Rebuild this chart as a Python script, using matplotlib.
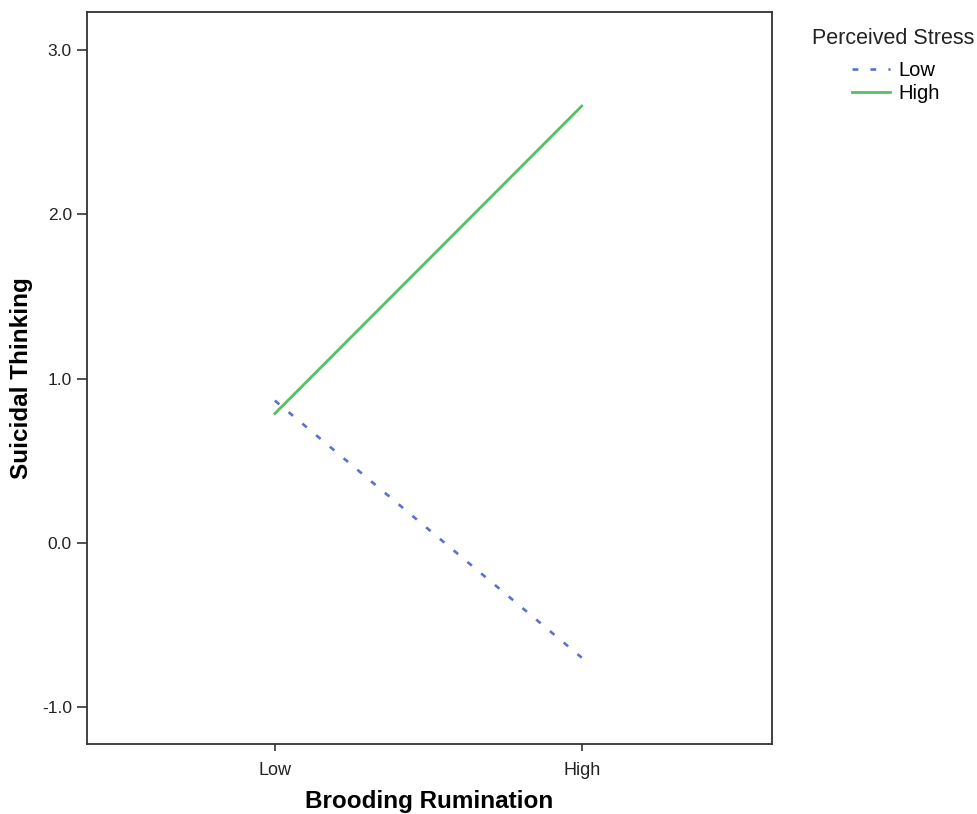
import matplotlib
matplotlib.use('Agg')
import matplotlib.pyplot as plt
from matplotlib.lines import Line2D

plt.rcParams['font.family'] = ['Liberation Sans', 'DejaVu Sans']

# data
x_labels = ['Low', 'High']
stress_low = [0.866, -0.70]
stress_high = [0.787, 2.66]
y_ticks = [-1.0, 0.0, 1.0, 2.0, 3.0]

blue = '#5b70cf'
green = '#52c262'
dots = (0, (2.2, 4.6))

fig = plt.figure(figsize=(9.78, 8.14), dpi=100)
ax = fig.add_axes([0.089, 0.086, 0.700, 0.899])

xs = [0, 1]
ax.plot(xs, stress_low, color=blue, linewidth=1.9, linestyle=dots)
ax.plot(xs, stress_high, color=green, linewidth=2)

ax.set_xlim(-0.612, 1.619)
ax.set_ylim(-1.226, 3.232)
ax.set_xticks(xs)
ax.set_xticklabels(x_labels)
ax.set_yticks(y_ticks)
ax.set_yticklabels(['%.1f' % v for v in y_ticks])
ax.tick_params(axis='x', labelsize=13, length=5, width=1.2, pad=8,
               color='#333333', labelcolor='#222222')
ax.tick_params(axis='y', labelsize=12.5, length=7, width=1.2, pad=4,
               color='#333333', labelcolor='#222222')
for s in ax.spines.values():
    s.set_linewidth(1.3)
    s.set_color('#333333')

ax.set_xlabel('Brooding Rumination', fontsize=17.5, fontweight='bold', labelpad=8)
ax.set_ylabel('Suicidal Thinking', fontsize=17.5, fontweight='bold', labelpad=6)

# legend outside the plot
handles = [Line2D([], [], color=blue, linewidth=1.9, linestyle=dots),
           Line2D([], [], color=green, linewidth=2)]
fig.text(0.830, 0.953, 'Perceived Stress', fontsize=15.5, color='#222222', va='center')
leg = fig.legend(handles, ['Low', 'High'], loc='upper left',
                 bbox_to_anchor=(0.871, 0.925), frameon=False, fontsize=14.5,
                 handlelength=1.9, handletextpad=0.4, labelspacing=0.2,
                 borderpad=0, borderaxespad=0)

fig.savefig('out.png', dpi=100)
